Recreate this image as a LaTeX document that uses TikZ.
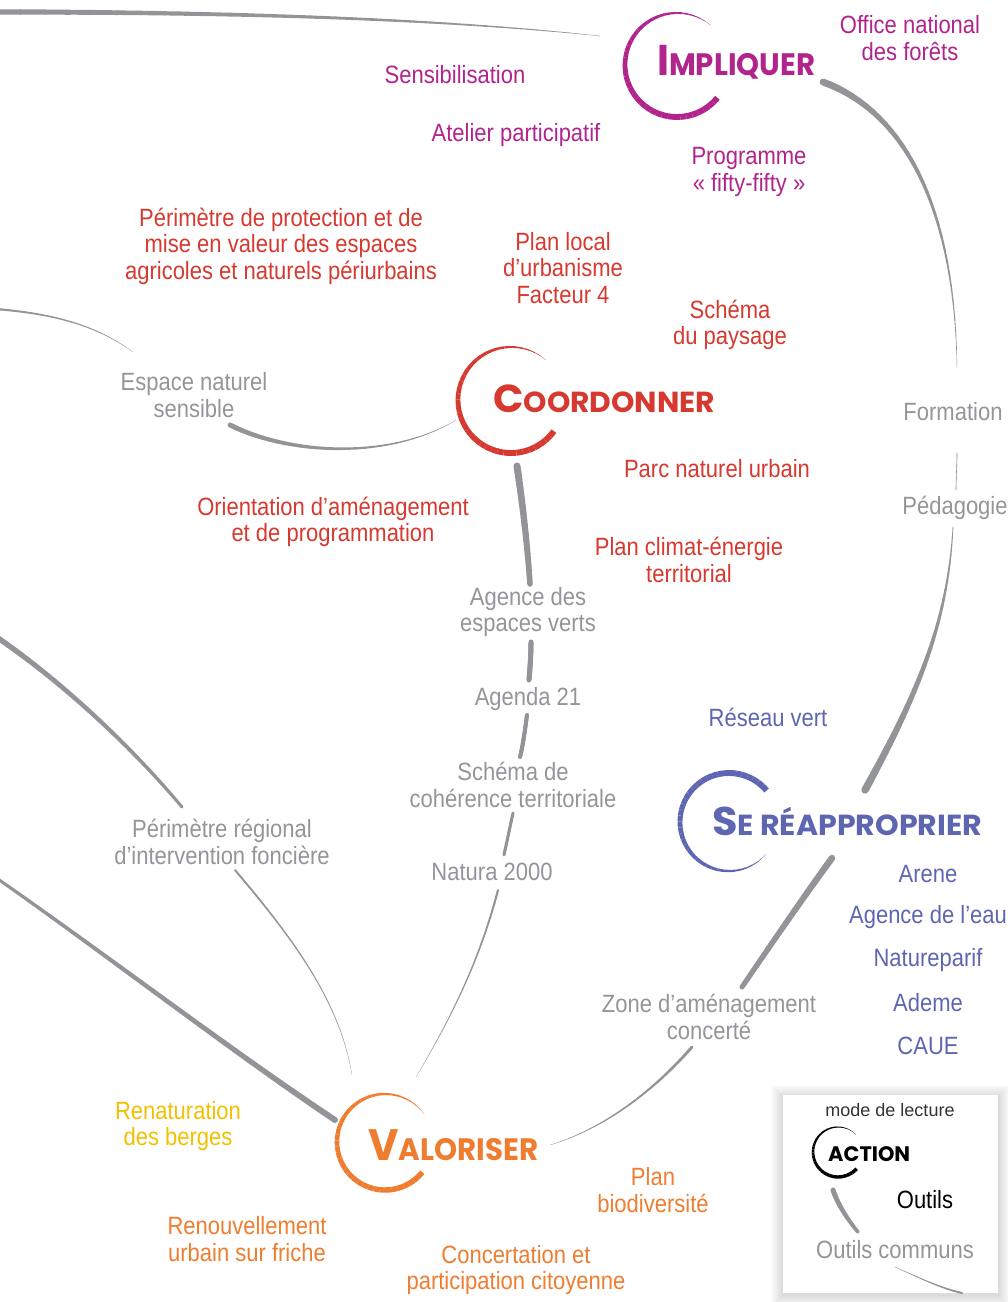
\documentclass[tikz,border=0pt]{standalone}
\usepackage{fontspec}
\setmainfont{Liberation Sans}[FakeStretch=0.88]
\newfontfamily\plainfont{Liberation Sans}
\newfontfamily\headfont{Poppins}
\definecolor{imp}{HTML}{B0248C}
\definecolor{coo}{HTML}{D6392F}
\definecolor{sea}{HTML}{5E66B1}
\definecolor{val}{HTML}{EF7D30}
\definecolor{yel}{HTML}{F3C000}
\definecolor{grt}{HTML}{939598}
\definecolor{grl}{HTML}{929497}
\newsavebox\fitbox
\newlength\fitl
\newcommand\fitw[2]{\sbox\fitbox{#2}\setlength\fitl{\wd\fitbox}\pgfmathsetmacro\fitr{#1/\fitl}\scalebox{\fitr}[1]{\usebox\fitbox}}
\newcommand\head[5]{\fitw{#1}{\headfont\bfseries\fontsize{#2}{#2}\selectfont #4\fontsize{#3}{#3}\selectfont #5}}
% tapered curve: #1 path, #2 width expression in \tps
\newcommand\taper[2]{%
  \path #1 \foreach \k [evaluate=\k as \tpt using \k/30] in {0,...,30}{coordinate[pos=\tpt] (tp\k)};
  \foreach \k [evaluate=\k as \tps using (\k+0.5)/30, evaluate=\k as \w using #2, evaluate=\k as \kk using int(\k+1)] in {0,...,29}{\draw[conn, line width=\w pt] (tp\k) -- (tp\kk);}%
}
% tapered arc: #1 centre, #2 radius, #3 start, #4 end, #5 width expr, #6 colour
\newcommand\tarc[6]{%
  \foreach \k [evaluate=\k as \tps using (\k+0.5)/40, evaluate=\k as \aa using #3+(#4-(#3))*\k/40, evaluate=\k as \ab using #3+(#4-(#3))*(\k+1)/40, evaluate=\k as \w using #5] in {0,...,39}{\draw[#6, line width=\w pt] ([shift={(\aa:#2)}]#1) arc[start angle=\aa, end angle=\ab, radius=#2];}%
}
\tikzset{
  conn/.style={draw=grl, line cap=round},
  lab/.style={align=center, inner sep=0pt, yshift=-2pt, font=\fontsize{25}{26.5}\selectfont},
  hd/.style={anchor=base west, inner sep=0pt},
}
\begin{document}
\begin{tikzpicture}[x=1pt, y=-1pt]
\useasboundingbox (0,0) rectangle (1008,1302);

% ---- action centres
\coordinate (cimp) at (677,65);
\coordinate (ccoo) at (511,400);
\coordinate (csea) at (729,822);
\coordinate (cval) at (385,1142);

% ---- connectors (tapered)
\taper{(-5,12) .. controls (250,12) and (450,20) .. (600,36)}{5.5-5.2*\tps}
\taper{(823,82) .. controls (900,110) and (955,200) .. (957,368)}{7-6.7*\tps}
\taper{(957,453) .. controls (957,465) and (956,478) .. (956,490)}{0.6}
\taper{(953,527) .. controls (948,620) and (920,690) .. (865,790)}{0.7+6.8*\tps}
\taper{(517,466) .. controls (522,500) and (527,540) .. (530,584)}{7-1.5*\tps}
\taper{(531,642) .. controls (531,655) and (530,668) .. (529,680)}{5}
\taper{(527,715) .. controls (525,730) and (523,745) .. (520,757)}{4}
\taper{(513,813) .. controls (510,827) and (507,841) .. (504,855)}{3}
\taper{(498,890) .. controls (480,960) and (450,1020) .. (416,1077)}{2.2-2*\tps}
\taper{(832,858) .. controls (800,902) and (770,946) .. (742,987)}{6.5-1.5*\tps}
\taper{(692,1047) .. controls (650,1095) and (600,1130) .. (550,1145)}{3-2.8*\tps}
\taper{(-5,309) .. controls (60,314) and (100,328) .. (133,352)}{2.2-2*\tps}
\taper{(230,425) .. controls (290,455) and (390,460) .. (456,420)}{5-4.8*\tps}
\taper{(-5,636) .. controls (60,680) and (130,745) .. (182,807)}{5.5-2.5*\tps}
\taper{(235,870) .. controls (290,935) and (340,1000) .. (352,1075)}{2-1.8*\tps}
\taper{(-5,877) .. controls (100,950) and (230,1050) .. (335,1120)}{3+3*\tps}

% ---- action arcs
\tarc{cimp}{52}{-50}{-321}{6*(1-(1-\tps)^2.5)}{imp}
\tarc{ccoo}{53}{-49}{-324}{6*(1-(1-\tps)^2.5)}{coo}
\tarc{csea}{49}{-40}{-319}{6*(1-\tps^2.5)}{sea}
\tarc{cval}{48}{-35}{-321}{5.5*(1-(1-\tps)^2.5)}{val}

% ---- action headings
\node[hd, text=imp] (himp) at (657,75) {\head{158}{43}{31}{I}{MPLIQUER}};
\node[hd, text=coo] (hcoo) at (493,412) {\head{222}{39}{29}{C}{OORDONNER}};
\node[hd, text=sea] (hsea) at (712,835) {\head{270}{40}{29}{S}{E RÉAPPROPRIER}};
\node[hd, text=val] (hval) at (368,1160) {\head{170}{44}{31}{V}{ALORISER}};

% ---- tools: Impliquer
\node[lab, text=imp] (onf) at (910,36) {Office national\\des forêts};
\node[lab, text=imp] (sens) at (455,73) {Sensibilisation};
\node[lab, text=imp] (atel) at (516,133) {Atelier participatif};
\node[lab, text=imp] (prog) at (749,170) {Programme\\«~fifty-fifty~»};
% Coordonner
\node[lab, text=coo] (paen) at (281,244) {Périmètre de protection et de\\mise en valeur des espaces\\agricoles et naturels périurbains};
\node[lab, text=coo] (plu) at (563,266) {Plan local\\d’urbanisme\\Facteur 4};
\node[lab, text=coo] (spay) at (730,323) {Schéma\\du paysage};
\node[lab, text=coo] (pnu) at (717,467) {Parc naturel urbain};
\node[lab, text=coo] (oap) at (333,520) {Orientation d’aménagement\\et de programmation};
\node[lab, text=coo] (pcet) at (689,558) {Plan climat-énergie\\territorial};
% common tools
\node[lab, text=grt] (ens) at (194,393) {Espace naturel\\sensible};
\node[lab, text=grt] (form) at (953,410) {Formation};
\node[lab, text=grt] (peda) at (955,506) {Pédagogie};
\node[lab, text=grt] (aev) at (528,610) {Agence des\\espaces verts};
\node[lab, text=grt] (a21) at (528,697) {Agenda 21};
\node[lab, text=grt] (scot) at (513,783) {Schéma de\\cohérence territoriale};
\node[lab, text=grt] (prif) at (222,840) {Périmètre régional\\d’intervention foncière};
\node[lab, text=grt] (n2000) at (492,870) {Natura 2000};
\node[lab, text=grt] (zac) at (709,1015) {Zone d’aménagement\\concerté};
% Se réapproprier
\node[lab, text=sea] (rv) at (768,715) {Réseau vert};
\node[lab, text=sea] (arene) at (928,872) {Arene};
\node[lab, text=sea] (eau) at (928,915) {Agence de l’eau};
\node[lab, text=sea] (npf) at (928,958) {Natureparif};
\node[lab, text=sea] (ademe) at (928,1001) {Ademe};
\node[lab, text=sea] (caue) at (928,1044) {CAUE};
% Valoriser
\node[lab, text=yel] (renat) at (178,1124) {Renaturation\\des berges};
\node[lab, text=val] (pbio) at (653,1188) {Plan\\biodiversité};
\node[lab, text=val] (renouv) at (247,1237) {Renouvellement\\urbain sur friche};
\node[lab, text=val] (conc) at (516,1268) {Concertation et\\participation citoyenne};

% ---- legend
\foreach \d in {1,...,12}
  \fill[black, opacity=0.012] (783-\d,1095-\d+2) rectangle (998+\d,1293+\d+2);
\node[fill=white, inner sep=0pt, minimum width=215pt, minimum height=198pt] (legend) at (890.5,1194) {};
\node[inner sep=0pt, text=black!80, font=\plainfont\fontsize{18}{18}\selectfont] (mode) at (890,1110) {mode de lecture};
\coordinate (cact) at (838,1152);
\tarc{cact}{25}{-44}{-318}{3.5*(1-(1-\tps)^2)}{black}
\node[hd, text=black] (hact) at (828,1161) {\fitw{82}{\headfont\bfseries\fontsize{21}{21}\selectfont ACTION}};
\taper{(833,1190) .. controls (838,1205) and (848,1220) .. (858,1232)}{5-1.5*\tps}
\node[lab, text=black] (outils) at (925,1198) {Outils};
\node[lab, text=grt] (ocom) at (895,1248) {Outils communs};
\taper{(895,1267) .. controls (920,1278) and (940,1288) .. (962,1293)}{0.3+1.7*\tps}
\end{tikzpicture}
\end{document}
